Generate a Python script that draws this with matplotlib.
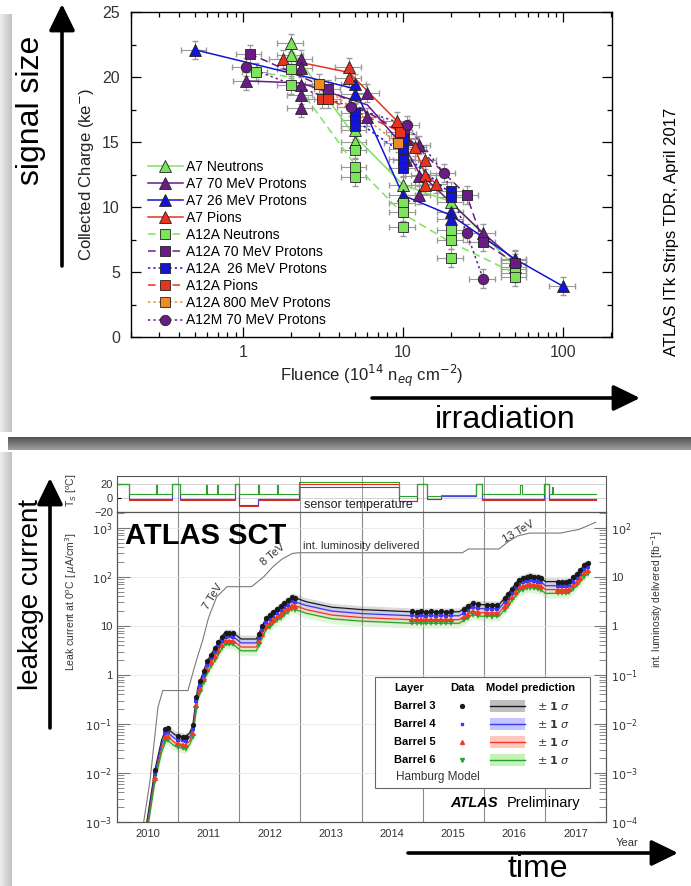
import matplotlib
matplotlib.use('Agg')
import matplotlib.pyplot as plt
import numpy as np
from matplotlib.lines import Line2D
from matplotlib.patches import Rectangle
from matplotlib.ticker import FixedLocator, FixedFormatter, MultipleLocator, LogLocator, NullFormatter

plt.rcParams['font.family'] = ['Liberation Sans', 'DejaVu Sans']

# ---------------- top panel: collected charge vs fluence ----------------
a7n_f = [2.0, 2.0, 5.0, 5.0, 10.0, 20.0, 50.0]
a7n_q = [22.6, 21.7, 15.9, 15.0, 11.7, 10.4, 5.4]
a7p70_f = [1.05, 2.3, 2.3, 2.3, 2.3, 2.3, 6.0, 6.0, 10.5, 10.5, 12.5, 12.5, 12.5, 31.6, 50.0]
a7p70_q = [19.7, 21.4, 20.7, 19.4, 18.6, 17.6, 18.8, 16.9, 15.2, 13.6, 14.8, 12.4, 10.9, 8.0, 5.9]
a7p26_f = [0.5, 5.0, 5.0, 10.0, 20.0, 20.0, 50.0, 100.0]
a7p26_q = [22.1, 19.5, 18.7, 10.9, 9.6, 9.1, 6.0, 3.9]
a7pi_f = [1.78, 4.6, 4.6, 9.2, 11.8, 13.7, 13.7, 13.7, 16.0]
a7pi_q = [21.4, 20.8, 19.9, 16.6, 14.6, 13.6, 12.5, 11.7, 11.8]
a12n_f = [1.2, 2.0, 2.0, 5.0, 5.0, 5.0, 10.0, 10.0, 10.0, 20.0, 20.0, 20.0, 50.0, 50.0, 50.0]
a12n_q = [20.4, 20.6, 19.4, 14.4, 13.1, 12.3, 10.3, 9.6, 8.5, 8.2, 7.5, 6.1, 5.2, 4.9, 4.6]
a12p70_f = [1.1, 3.4, 10.2, 25.0, 31.6, 50.0]
a12p70_q = [21.8, 19.1, 15.6, 10.9, 7.3, 5.7]
a12p26_f = [5.0, 5.0, 5.0, 10.0, 10.0, 10.0, 10.0, 20.0, 20.0]
a12p26_q = [17.2, 16.7, 16.2, 15.3, 14.5, 13.7, 13.0, 11.2, 10.8]
a12pi_f = [3.1, 3.4, 9.6]
a12pi_q = [18.3, 18.3, 15.8]
a12p800_f = [3.0, 9.3]
a12p800_q = [19.5, 14.9]
a12m_f = [1.04, 4.7, 10.6, 18.0, 25.0, 31.6]
a12m_q = [20.8, 17.7, 16.3, 12.6, 8.0, 4.5]
fluence_err_rel = 0.18
charge_err = 0.7

# ---------------- bottom panel: SCT leakage current ----------------
model_year = [2010.45, 2010.62, 2010.73, 2010.81, 2010.95, 2011.11, 2011.19, 2011.24, 2011.32,
              2011.47, 2011.6, 2011.76, 2011.9, 2012.03, 2012.28, 2012.44, 2012.66, 2012.87,
              2013.1, 2013.52, 2014.0, 2014.81, 2015.6, 2015.81, 2015.97, 2016.25, 2016.41,
              2016.57, 2016.74, 2016.93, 2017.01, 2017.39, 2017.55, 2017.67]
model_b3 = [0.0005, 0.0115, 0.047, 0.083, 0.060, 0.054, 0.065, 0.095, 0.54, 1.84, 3.5, 7.2, 7.2,
            5.4, 5.4, 14.6, 24.5, 39, 31, 24, 21.5, 19.4, 19.4, 29, 27, 27, 47, 87, 105, 95, 80,
            80, 125, 190]
model_b4 = [0.0004, 0.0095, 0.039, 0.069, 0.050, 0.045, 0.054, 0.079, 0.45, 1.5, 2.9, 6.0, 6.0,
            4.5, 4.5, 12.1, 20.3, 32, 26, 20, 17.8, 16.1, 16.1, 24, 22.4, 22.4, 39, 72, 87, 79, 66,
            66, 104, 158]
model_b5 = [0.00034, 0.0079, 0.032, 0.057, 0.041, 0.037, 0.045, 0.066, 0.37, 1.27, 2.4, 5.0, 5.0,
            3.7, 3.7, 10.1, 16.9, 27, 21.4, 16.6, 14.8, 13.4, 13.4, 20, 18.6, 18.6, 32, 60, 72, 66,
            55, 55, 86, 131]
model_b6 = [0.00029, 0.0067, 0.027, 0.048, 0.035, 0.031, 0.038, 0.055, 0.31, 1.07, 2.0, 4.2, 4.2,
            3.1, 3.1, 8.5, 14.2, 22.6, 18, 13.9, 12.5, 11.3, 11.3, 16.8, 15.7, 15.7, 27, 50, 61, 55,
            46, 46, 73, 110]
model_sigma = 0.2

data_year = [2010.62, 2010.79, 2010.83, 2010.99, 2011.08, 2011.13,
             2011.24, 2011.3, 2011.36, 2011.42, 2011.48, 2011.54, 2011.6, 2011.66, 2011.72, 2011.78, 2011.84, 2011.9,
             2012.32, 2012.38, 2012.44, 2012.5, 2012.56, 2012.62, 2012.68, 2012.74, 2012.8, 2012.86, 2012.92,
             2014.82, 2014.9, 2014.98, 2015.06, 2015.14, 2015.22, 2015.3, 2015.38, 2015.46,
             2015.68, 2015.75, 2015.82, 2015.9,
             2016.06, 2016.14, 2016.22,
             2016.34, 2016.4, 2016.46, 2016.52, 2016.58, 2016.64, 2016.7, 2016.76, 2016.82, 2016.88, 2016.94,
             2017.22, 2017.28, 2017.34, 2017.4, 2017.46, 2017.52, 2017.58, 2017.64, 2017.7]
data_b3 = [0.0115, 0.078, 0.082, 0.058, 0.055, 0.053,
           0.095, 0.35, 0.75, 1.2, 1.9, 2.6, 3.5, 4.6, 6.0, 7.2, 7.3, 7.2,
           6.9, 10, 14.6, 16.8, 19.4, 22.3, 25.6, 29, 33, 38, 37,
           20, 19.5, 20, 19.5, 20, 19.5, 20, 19.5, 20,
           22.5, 25.5, 29, 28,
           27, 26.5, 27,
           37, 45, 57, 72, 88, 94, 100, 104, 100, 97, 94,
           80, 80, 80, 82, 97, 115, 139, 171, 195]
data_b4 = [0.0095, 0.065, 0.068, 0.048, 0.046, 0.044,
           0.079, 0.29, 0.62, 1.0, 1.6, 2.2, 2.9, 3.8, 5.0, 6.0, 6.1, 6.0,
           5.7, 8.3, 12.1, 13.9, 16.1, 18.5, 21.2, 24, 27, 32, 31,
           16.6, 16.2, 16.6, 16.2, 16.6, 16.2, 16.6, 16.2, 16.6,
           18.7, 21.2, 24, 23,
           22.4, 22, 22.4,
           31, 37, 47, 60, 73, 78, 83, 86, 83, 80, 78,
           66, 66, 66, 68, 80, 95, 115, 142, 162]
data_b5 = [0.0079, 0.054, 0.057, 0.040, 0.038, 0.037,
           0.066, 0.24, 0.52, 0.83, 1.3, 1.8, 2.4, 3.2, 4.1, 5.0, 5.0, 5.0,
           4.8, 6.9, 10.1, 11.6, 13.4, 15.4, 17.7, 20, 22.8, 26, 25.5,
           13.8, 13.5, 13.8, 13.5, 13.8, 13.5, 13.8, 13.5, 13.8,
           15.5, 17.6, 20, 19.3,
           18.6, 18.3, 18.6,
           25.5, 31, 39, 50, 61, 65, 69, 72, 69, 67, 65,
           55, 55, 55, 57, 67, 79, 96, 118, 135]
data_b6 = [0.0067, 0.045, 0.048, 0.034, 0.032, 0.031,
           0.055, 0.2, 0.44, 0.7, 1.1, 1.5, 2.0, 2.7, 3.5, 4.2, 4.2, 4.2,
           4.0, 5.8, 8.5, 9.7, 11.3, 12.9, 14.8, 16.8, 19.1, 22, 21.5,
           11.6, 11.3, 11.6, 11.3, 11.6, 11.3, 11.6, 11.3, 11.6,
           13, 14.8, 16.8, 16.2,
           15.7, 15.4, 15.7,
           21.5, 26, 33, 42, 51, 55, 58, 60, 58, 56, 55,
           46, 46, 46, 48, 56, 67, 81, 99, 113]

lumi_year = [2010.4, 2010.54, 2010.67, 2010.75, 2011.16, 2011.3, 2011.4, 2011.5, 2011.63, 2011.8,
             2012.2, 2012.4, 2012.55, 2012.7, 2012.87, 2012.97, 2015.65, 2015.75, 2016.25, 2016.4,
             2016.55, 2016.75, 2017.26, 2017.4, 2017.55, 2017.7, 2017.83]
lumi_fb = [5e-5, 7e-4, 0.022, 0.048, 0.048, 0.2, 0.5, 1.5, 3.9, 6.3, 6.3, 10, 16, 23, 30, 31, 31,
           37, 37, 52, 68, 78, 78, 85, 92, 110, 130]

temp_year = [2010.0, 2010.2, 2010.63, 2010.65, 2010.9, 2011.03, 2011.46, 2011.48, 2011.63, 2011.65,
             2011.93, 2012.0, 2012.3, 2012.32, 2012.62, 2012.64, 2012.97, 2014.62, 2014.9, 2015.07,
             2015.3, 2015.87, 2015.97, 2016.6, 2016.62, 2016.98, 2017.06, 2017.12, 2017.14, 2017.83]
temp_green = [20, 6, 18, 6, 20, 6, 18, 6, 18, 6, 20, 6, 18, 6, 18, 6, 23, 3, 20, 2, 4, 20, 6, 18, 6,
              20, 6, 16, 6, 6]
temp_blue = [20, -2, -2, -2, 20, -2, -2, -2, -2, -2, 20, -10, -2, -2, -2, -2, 15, -4, 20, -1, 3, 20,
             -2, -2, -2, 20, -2, -2, -2, -2]
temp_red = [20, -3, -3, -3, 20, -3, -3, -3, -3, -3, 20, -12, -3, -3, -3, -3, 20, -5, 20, -2, 2, 20,
            -3, -3, -3, 20, -3, -3, -3, -3]

year_labels = ['2010', '2011', '2012', '2013', '2014', '2015', '2016', '2017']

W, H = 691, 886
fig = plt.figure(figsize=(W / 100, H / 100), dpi=100)


def px_axes(left, top, right, bottom, **kw):
    return fig.add_axes([left / W, 1 - bottom / H, (right - left) / W, (bottom - top) / H], **kw)


# background layer in pixel units (shadows, arrows, big words)
bg = fig.add_axes([0, 0, 1, 1], zorder=-10)
bg.axis('off')
strip = np.linspace(0.93, 0.76, 30).reshape(1, -1)
bg.imshow(strip, extent=(0, 12, 432, 14), cmap='gray', vmin=0, vmax=1, aspect='auto')
bg.imshow(strip, extent=(0, 12, 886, 452), cmap='gray', vmin=0, vmax=1, aspect='auto')
bar = np.linspace(0.33, 0.62, 20).reshape(-1, 1)
bg.imshow(bar, extent=(8, W, 450, 437), cmap='gray', vmin=0, vmax=1, aspect='auto')
bg.set_xlim(0, W)
bg.set_ylim(H, 0)

arrow = dict(arrowstyle='-|>,head_length=0.45,head_width=0.22', lw=2.6, color='black',
             mutation_scale=36, shrinkA=0, shrinkB=0)
bg.annotate('', xy=(62, 4), xytext=(62, 266), arrowprops=arrow)
bg.annotate('', xy=(50, 478), xytext=(50, 728), arrowprops=arrow)
bg.annotate('', xy=(640, 398), xytext=(372, 398), arrowprops=arrow)
bg.annotate('', xy=(678, 853), xytext=(408, 853), arrowprops=arrow)
bg.text(31, 110, 'signal size', rotation=90, ha='center', va='center', fontsize=23)
bg.text(31, 594, 'leakage current', rotation=90, ha='center', va='center', fontsize=20)
bg.text(505, 420, 'irradiation', ha='center', va='center', fontsize=23)
bg.text(538, 869, 'time', ha='center', va='center', fontsize=23)
bg.text(672, 232, 'ATLAS ITk Strips TDR, April 2017', rotation=90, ha='center', va='center',
        fontsize=12)

# ---------------- top chart ----------------
ax1 = px_axes(131, 12, 612, 337)
series = [
    (a7n_f, a7n_q, '#7de35c', '^', '-', 'A7 Neutrons'),
    (a7p70_f, a7p70_q, '#6a1b86', '^', '-', 'A7 70 MeV Protons'),
    (a7p26_f, a7p26_q, '#1414d8', '^', '-', 'A7 26 MeV Protons'),
    (a7pi_f, a7pi_q, '#e8341f', '^', '-', 'A7 Pions'),
    (a12n_f, a12n_q, '#7de35c', 's', (0, (5, 3)), 'A12A Neutrons'),
    (a12p70_f, a12p70_q, '#6a1b86', 's', (0, (5, 3)), 'A12A 70 MeV Protons'),
    (a12p26_f, a12p26_q, '#1414d8', 's', (0, (1.5, 2)), 'A12A  26 MeV Protons'),
    (a12pi_f, a12pi_q, '#e8341f', 's', (0, (5, 3)), 'A12A Pions'),
    (a12p800_f, a12p800_q, '#f08a24', 's', (0, (1.5, 2)), 'A12A 800 MeV Protons'),
    (a12m_f, a12m_q, '#6a1b86', 'o', (0, (1.5, 2)), 'A12M 70 MeV Protons'),
]
handles = []
for f, q, col, mk, ls, lab in series:
    f = np.array(f)
    q = np.array(q)
    ax1.errorbar(f, q, xerr=f * fluence_err_rel, yerr=charge_err, fmt='none', ecolor='#9a9a9a',
                 elinewidth=0.8, capsize=2.5, zorder=2)
    uf = np.unique(f)
    mq = [q[f == v].mean() for v in uf]
    ax1.plot(uf, mq, color=col, ls=ls, lw=1.1, zorder=3)
    ax1.plot(f, q, ls='none', marker=mk, ms=8.5 if mk == '^' else 7.5, mfc=col, mec='#222222',
             mew=0.6, zorder=4)
    handles.append(Line2D([], [], color=col, ls=ls, lw=1.1, marker=mk, ms=8.5 if mk == '^' else 7.5,
                          mfc=col, mec='#222222', mew=0.6, label=lab))
ax1.set_xscale('log')
ax1.set_xlim(0.2, 202)
ax1.set_ylim(0, 25)
ax1.yaxis.set_major_locator(MultipleLocator(5))
ax1.yaxis.set_minor_locator(MultipleLocator(2.5))
ax1.xaxis.set_major_locator(FixedLocator([1, 10, 100]))
ax1.xaxis.set_major_formatter(FixedFormatter(['1', '10', '100']))
ax1.xaxis.set_minor_locator(LogLocator(base=10, subs=np.arange(2, 10)))
ax1.xaxis.set_minor_formatter(NullFormatter())
ax1.tick_params(which='both', direction='in', top=True, right=True, labelsize=11.5,
                labelcolor='#333333', width=0.9)
ax1.tick_params(which='major', length=7)
ax1.tick_params(which='minor', length=3.5)
ax1.tick_params(axis='y', pad=8)
ax1.tick_params(axis='x', pad=6)
for s in ax1.spines.values():
    s.set_linewidth(1.0)
ax1.set_ylabel('Collected Charge (ke$^{-}$)', fontsize=12, color='#222222')
ax1.yaxis.set_label_coords(-0.072, 0.5)
ax1.set_xlabel('Fluence (10$^{14}$ n$_{eq}$ cm$^{-2}$)', fontsize=12, color='#222222')
ax1.xaxis.set_label_coords(0.5, -0.08)
ax1.legend(handles=handles, loc='upper left', bbox_to_anchor=(0.035, 0.545), frameon=False,
           fontsize=10, handlelength=2.5, handletextpad=0.25, labelspacing=0.22, borderpad=0,
           borderaxespad=0)

# ---------------- bottom chart: temperature strip ----------------
axt = px_axes(117, 476, 606, 512)
axt.step(temp_year, temp_red, where='post', color='#e03020', lw=0.8)
axt.step(temp_year, temp_blue, where='post', color='#4444dd', lw=0.8)
axt.step(temp_year, temp_green, where='post', color='#2ca02c', lw=0.8)
axt.set_xlim(2010, 2018)
axt.set_ylim(-20, 31)
axt.set_yticks([-20, 0, 20])
axt.set_xticks(np.arange(2011, 2018))
axt.set_xticklabels([])
axt.grid(axis='x', color='#999999', lw=0.7)
axt.axhline(0, color='#cccccc', lw=0.6, zorder=0)
axt.axhline(20, color='#cccccc', lw=0.6, zorder=0)
axt.tick_params(axis='y', labelsize=8, labelcolor='#333333', direction='in', length=3, pad=3)
axt.tick_params(axis='x', length=0)
axt.set_ylabel('T$_S$ [$^o$C]', fontsize=7.5, color='#333333')
axt.yaxis.set_label_coords(-0.078, 0.6)
axt.text(0.493, 0.2, 'sensor temperature', transform=axt.transAxes, ha='center', va='center',
         fontsize=9, color='#222222')
for s in axt.spines.values():
    s.set_color('#555555')
    s.set_linewidth(0.8)

# ---------------- bottom chart: leakage current ----------------
ax2 = px_axes(117, 512, 606, 822)
ax2.set_yscale('log')
ax2.set_xlim(2010, 2018)
ax2.set_ylim(1e-3, 2.1e3)

layers = [
    (model_b3, data_b3, '#1a1a1a', '#b0b0b0', 'o', 3.8),
    (model_b4, data_b4, '#3b3bef', '#b8b8ff', 's', 3.0),
    (model_b5, data_b5, '#ef3b25', '#ffb9b0', '^', 3.8),
    (model_b6, data_b6, '#2ca02c', '#b4f0a8', 'v', 3.8),
]
for mod, dat, col, band, mk, ms in layers:
    mod = np.array(mod)
    ax2.fill_between(model_year, mod * (1 - model_sigma), mod * (1 + model_sigma), color=band,
                     alpha=0.45, lw=0, zorder=1)
for mod, dat, col, band, mk, ms in layers:
    ax2.plot(model_year, mod, color=col, lw=0.9, zorder=2)
for mod, dat, col, band, mk, ms in reversed(layers):
    ax2.plot(data_year, dat, ls='none', marker=mk, ms=ms, color=col, mew=0, zorder=3)

ax2r = ax2.twinx()
ax2r.set_yscale('log')
ax2r.set_ylim(1e-4, 2.1e2)
ax2r.plot(lumi_year, lumi_fb, color='#7a7a7a', lw=0.8)

dec_left = [1e-3, 1e-2, 1e-1, 1, 10, 1e2, 1e3]
ax2.yaxis.set_major_locator(FixedLocator(dec_left))
ax2.yaxis.set_major_formatter(FixedFormatter(['$10^{-3}$', '$10^{-2}$', '$10^{-1}$', '1', '10',
                                              '$10^{2}$', '$10^{3}$']))
ax2.yaxis.set_minor_locator(LogLocator(base=10, subs=np.arange(2, 10)))
ax2.yaxis.set_minor_formatter(NullFormatter())
dec_right = [1e-4, 1e-3, 1e-2, 1e-1, 1, 10, 1e2]
ax2r.yaxis.set_major_locator(FixedLocator(dec_right))
ax2r.yaxis.set_major_formatter(FixedFormatter(['$10^{-4}$', '$10^{-3}$', '$10^{-2}$', '$10^{-1}$',
                                               '1', '10', '$10^{2}$']))
ax2r.yaxis.set_minor_locator(LogLocator(base=10, subs=np.arange(2, 10)))
ax2r.yaxis.set_minor_formatter(NullFormatter())
for a in (ax2, ax2r):
    a.tick_params(axis='y', which='both', direction='in', labelsize=8, labelcolor='#333333',
                  color='#777777')
    a.tick_params(axis='y', which='major', length=9)
    a.tick_params(axis='y', which='minor', length=5)

ax2.set_xticks(np.arange(2011, 2018))
ax2.set_xticklabels([])
ax2.set_xticks(np.arange(2010.5, 2018, 1.0), year_labels, minor=True)
ax2.tick_params(axis='x', which='major', length=0)
ax2.tick_params(axis='x', which='minor', length=0, labelsize=8, labelcolor='#333333', pad=5)
ax2.grid(axis='x', which='major', color='#8a8a8a', lw=0.8)
ax2.grid(axis='y', which='major', color='#e6e6e6', lw=0.6)
for s in list(ax2.spines.values()) + list(ax2r.spines.values()):
    s.set_color('#555555')
    s.set_linewidth(0.8)

ax2.set_ylabel('Leak current at 0$^o$C [ $\\mu$A/cm$^3$]', fontsize=7.5, color='#333333')
ax2.yaxis.set_label_coords(-0.078, 0.71)
ax2r.set_ylabel('int. luminosity delivered [fb$^{-1}$]', fontsize=7.5, color='#333333')
ax2r.yaxis.set_label_coords(1.088, 0.72)

ax2.text(0.016, 0.923, 'ATLAS SCT', transform=ax2.transAxes, ha='left', va='center',
         fontsize=21, fontweight='bold')
ax2.text(0.38, 0.89, 'int. luminosity delivered', transform=ax2.transAxes, ha='left',
         va='center', fontsize=8, color='#333333')
ax2.text(0.196, 0.726, '7 TeV', transform=ax2.transAxes, ha='center', va='center', fontsize=8,
         rotation=58, color='#333333')
ax2.text(0.319, 0.861, '8 TeV', transform=ax2.transAxes, ha='center', va='center', fontsize=8,
         rotation=40, color='#333333')
ax2.text(0.82, 0.935, '13 TeV', transform=ax2.transAxes, ha='center', va='center', fontsize=8,
         rotation=30, color='#333333')
ax2.text(0.681, 0.061, 'ATLAS', transform=ax2.transAxes, ha='left', va='center', fontsize=10.5,
         fontweight='bold', fontstyle='italic')
ax2.text(0.797, 0.061, 'Preliminary', transform=ax2.transAxes, ha='left', va='center',
         fontsize=10.5)
bg.text(627, 843, 'Year', ha='center', va='center', fontsize=8, color='#333333')

# legend table of the bottom chart
tr = ax2.transAxes
ax2.add_patch(Rectangle((0.528, 0.11), 0.439, 0.358, transform=tr, facecolor='white',
                        edgecolor='#666666', lw=0.8, zorder=6))
ax2.text(0.566, 0.432, 'Layer', transform=tr, fontsize=8, fontweight='bold', va='center', zorder=7)
ax2.text(0.706, 0.432, 'Data', transform=tr, fontsize=8, fontweight='bold', va='center',
         ha='center', zorder=7)
ax2.text(0.755, 0.432, 'Model prediction', transform=tr, fontsize=8, fontweight='bold',
         va='center', zorder=7)
row_y = [0.374, 0.316, 0.258, 0.2]
for i, (mod, dat, col, band, mk, ms) in enumerate(layers):
    y = row_y[i]
    ax2.text(0.566, y, 'Barrel %d' % (i + 3), transform=tr, fontsize=8, fontweight='bold',
             va='center', zorder=7)
    ax2.add_line(Line2D([0.706], [y], transform=tr, marker=mk, ms=ms - 1.0, color=col, ls='none',
                        zorder=7))
    ax2.add_patch(Rectangle((0.763, y - 0.018), 0.071, 0.036, transform=tr, facecolor=band,
                            edgecolor='none', alpha=0.8, zorder=7))
    ax2.add_line(Line2D([0.763, 0.834], [y, y], transform=tr, color=col, lw=1.0, zorder=8))
    ax2.text(0.859, y, '$\\pm$ $\\mathbf{1}$ $\\sigma$', transform=tr, fontsize=8, va='center',
             zorder=7, color='#333333')
ax2.text(0.57, 0.145, 'Hamburg Model', transform=tr, fontsize=8.5, va='center', zorder=7,
         color='#333333')

fig.savefig('out.png', dpi=100)
